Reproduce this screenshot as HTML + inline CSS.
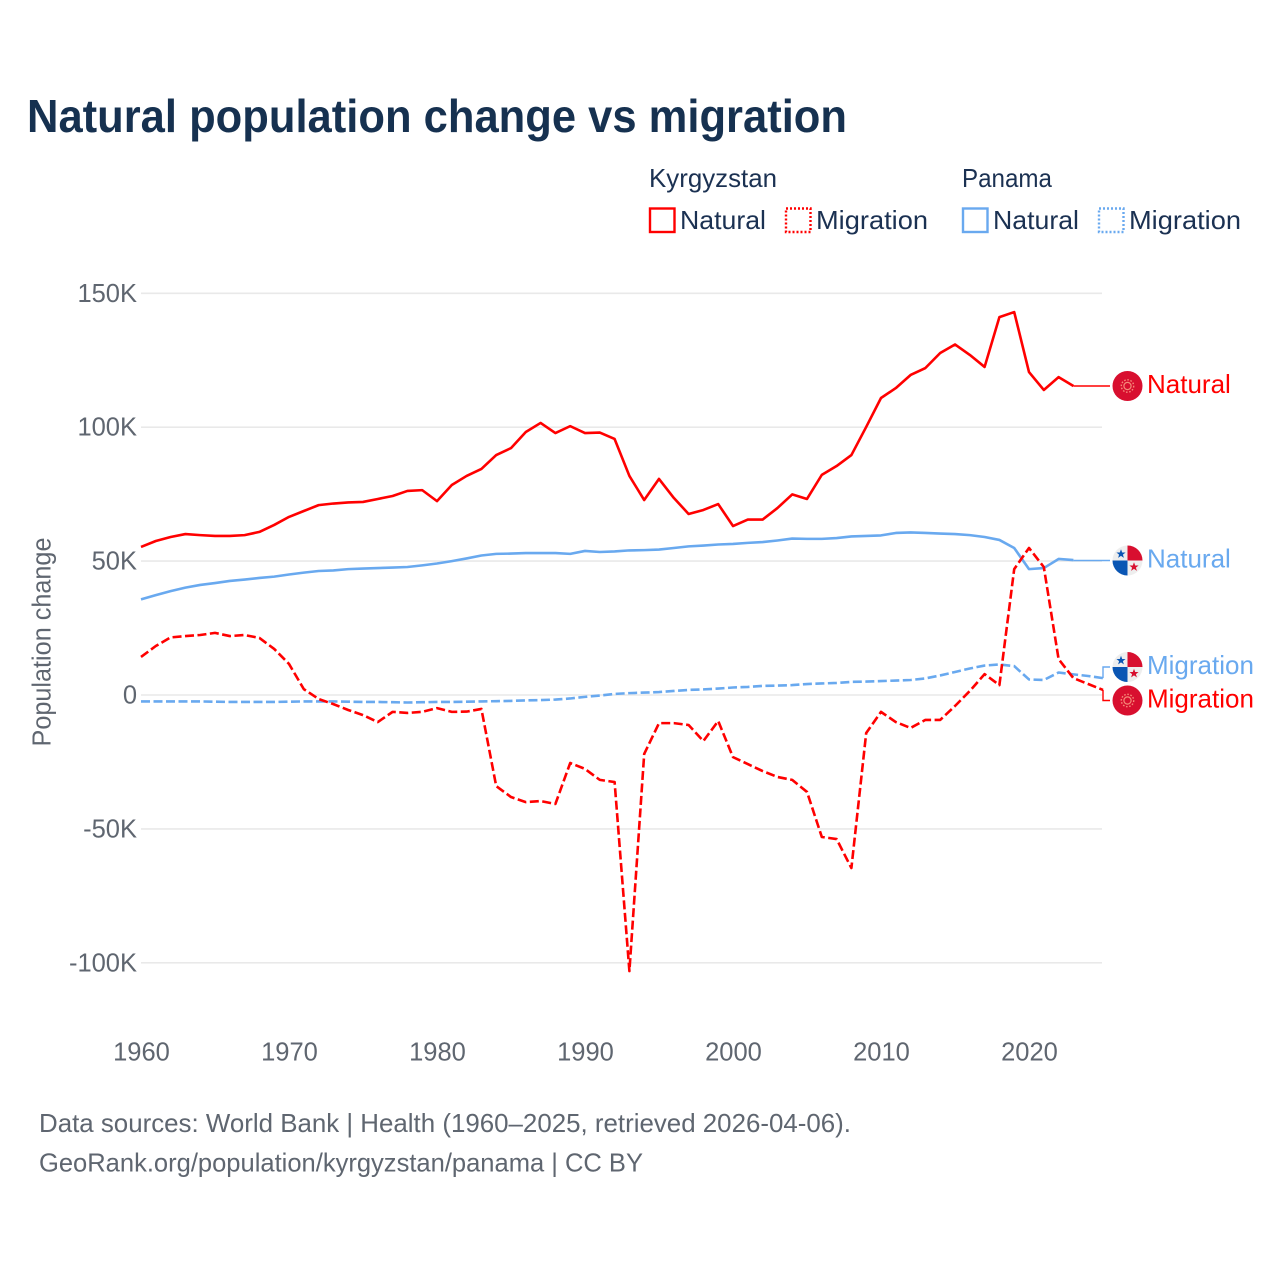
<!DOCTYPE html>
<html lang="en">
<head>
<meta charset="utf-8">
<title>Natural population change vs migration</title>
<style>
html,body{margin:0;padding:0;background:#fff}
svg{display:block}
text{font-family:"Liberation Sans",sans-serif}
.tick{font-size:25.5px;fill:#5f6670}
.legend{font-size:26px;fill:#1b3152}
.foot{font-size:26px;fill:#5f6670}
.end{font-size:26px}
</style>
</head>
<body>
<svg id="chart" xmlns="http://www.w3.org/2000/svg" width="1280" height="1280" viewBox="0 0 1280 1280">
<defs>
<g id="flag-kg">
<circle r="15" fill="#d80f2f"/>
<circle r="3.6" fill="none" stroke="#f58a78" stroke-width="1.2"/>
<circle r="6.2" fill="none" stroke="#f58a78" stroke-width="1.4" stroke-dasharray="1.6 1.6"/>
</g>
<g id="flag-pa">
<circle r="15" fill="#eeeeee"/>
<path d="M0 0V-15A15 15 0 0 1 15 0Z" fill="#d80f2f"/>
<path d="M0 0V15A15 15 0 0 1 -15 0Z" fill="#0a56b4"/>
<polygon transform="translate(-6.5 -6.5)" points="0,-4.8 1.2,-1.5 4.6,-1.5 1.9,0.6 2.9,3.9 0,1.9 -2.9,3.9 -1.9,0.6 -4.6,-1.5 -1.2,-1.5" fill="#0a56b4"/>
<polygon transform="translate(6.5 6.5)" points="0,-4.8 1.2,-1.5 4.6,-1.5 1.9,0.6 2.9,3.9 0,1.9 -2.9,3.9 -1.9,0.6 -4.6,-1.5 -1.2,-1.5" fill="#d80f2f"/>
</g>
</defs>

<text x="27" y="132" font-size="46.5" font-weight="700" fill="#163150" textLength="820" lengthAdjust="spacingAndGlyphs">Natural population change vs migration</text>

<g>
<text class="legend" x="649" y="187" textLength="128" lengthAdjust="spacingAndGlyphs">Kyrgyzstan</text>
<text class="legend" x="962" y="187" textLength="90" lengthAdjust="spacingAndGlyphs">Panama</text>
<rect x="650" y="208.5" width="24.5" height="23.5" fill="none" stroke="#ff0000" stroke-width="2.4"/>
<text class="legend" x="680" y="229" textLength="86" lengthAdjust="spacingAndGlyphs">Natural</text>
<rect x="786" y="208.5" width="24.5" height="23.5" fill="none" stroke="#ff0000" stroke-width="2.4" stroke-dasharray="2 2"/>
<text class="legend" x="816" y="229" textLength="112" lengthAdjust="spacingAndGlyphs">Migration</text>
<rect x="963" y="208.5" width="24.5" height="23.5" fill="none" stroke="#69a9ef" stroke-width="2.4"/>
<text class="legend" x="993" y="229" textLength="86" lengthAdjust="spacingAndGlyphs">Natural</text>
<rect x="1099" y="208.5" width="24.5" height="23.5" fill="none" stroke="#69a9ef" stroke-width="2.4" stroke-dasharray="2 2"/>
<text class="legend" x="1129" y="229" textLength="112" lengthAdjust="spacingAndGlyphs">Migration</text>
</g>

<text class="tick" transform="translate(50.5 642) rotate(-90)" text-anchor="middle" font-size="26" textLength="209" lengthAdjust="spacingAndGlyphs">Population change</text>

<g id="grid"></g>
<g id="yticks"></g>
<g id="xticks"></g>
<g id="series"></g>
<g id="ends"></g>

<text class="foot" x="39" y="1132" textLength="812" lengthAdjust="spacingAndGlyphs">Data sources: World Bank | Health (1960–2025, retrieved 2026-04-06).</text>
<text class="foot" x="39" y="1171.5" textLength="604" lengthAdjust="spacingAndGlyphs">GeoRank.org/population/kyrgyzstan/panama | CC BY</text>
</svg>

<script>
const startYear = 1960;
const xTickYears = [1960, 1970, 1980, 1990, 2000, 2010, 2020];
const yTickValues = [150, 100, 50, 0, -50, -100];
const yTickLabels = ['150K', '100K', '50K', '0', '-50K', '-100K'];

const kyrgyzstanNatural = [55.3,57.5,59.0,60.1,59.7,59.4,59.4,59.7,60.9,63.5,66.5,68.7,70.9,71.5,71.9,72.1,73.2,74.3,76.2,76.5,72.4,78.4,81.8,84.4,89.6,92.2,98.2,101.6,97.8,100.4,97.8,98.0,95.6,81.8,72.8,80.7,73.6,67.6,69.1,71.3,63.1,65.5,65.5,69.8,74.9,73.2,82.2,85.5,89.6,100.1,110.9,114.6,119.5,122.1,127.7,130.9,127.0,122.5,141.1,143.0,120.6,113.9,118.7,115.4];
const kyrgyzstanMigration = [14.2,18.3,21.5,22.0,22.4,23.2,22.0,22.4,21.3,17.2,11.6,2.2,-1.5,-3.4,-5.6,-7.5,-10.1,-6.3,-6.7,-6.3,-4.9,-6.3,-6.2,-5.2,-34.0,-38.1,-40.0,-39.6,-40.7,-25.4,-27.6,-31.7,-32.5,-103.1,-22.0,-10.5,-10.5,-11.2,-17.2,-9.7,-23.2,-25.8,-28.4,-30.6,-31.7,-36.2,-53.0,-53.8,-64.6,-14.2,-6.3,-10.1,-12.3,-9.3,-9.3,-4.1,1.5,7.8,3.7,47.0,54.9,47.8,13.4,6.3,4.1,1.9];
const panamaNatural = [35.7,37.3,38.8,40.1,41.1,41.8,42.6,43.1,43.7,44.2,45.0,45.7,46.3,46.5,47.0,47.2,47.4,47.6,47.8,48.4,49.1,50.0,51.0,52.1,52.7,52.8,53.0,53.0,53.0,52.7,53.8,53.4,53.6,54.0,54.1,54.3,54.9,55.5,55.8,56.2,56.4,56.8,57.1,57.7,58.4,58.3,58.3,58.6,59.2,59.4,59.6,60.5,60.7,60.5,60.3,60.1,59.7,59.0,57.9,54.9,47.0,47.4,50.8,50.4];
const panamaMigration = [-2.4,-2.4,-2.4,-2.4,-2.4,-2.5,-2.6,-2.6,-2.6,-2.6,-2.5,-2.4,-2.4,-2.4,-2.5,-2.6,-2.6,-2.7,-2.8,-2.7,-2.6,-2.6,-2.5,-2.4,-2.3,-2.2,-2.0,-1.9,-1.7,-1.3,-0.7,-0.2,0.4,0.7,0.9,1.1,1.5,1.9,2.1,2.4,2.8,3.0,3.4,3.5,3.7,4.1,4.3,4.5,4.9,5.0,5.2,5.4,5.6,6.2,7.3,8.6,9.9,11.0,11.4,10.8,5.8,5.6,8.4,7.7,7.1,6.3];

function xScale(year) { return 141 + (year - 1960) * 14.8; }
function yScale(k) { return 695 - k * 2.678; }

const NS = 'http://www.w3.org/2000/svg';
function make(tag, parentId, attrs) {
  const el = document.createElementNS(NS, tag);
  for (const k in attrs) el.setAttribute(k, attrs[k]);
  document.getElementById(parentId).appendChild(el);
  return el;
}

yTickValues.forEach(function (v, i) {
  const line = make('line', 'grid', {x1: 141, x2: 1102, y1: yScale(v), y2: yScale(v), stroke: '#e9e9e9', 'stroke-width': 1.6});
  
  
  const t = make('text', 'yticks', {x: 137, y: yScale(v) + 8.5, 'text-anchor': 'end', class: 'tick'});
  t.textContent = yTickLabels[i];
  
  
});

xTickYears.forEach(function (yr) {
  const t = make('text', 'xticks', {x: xScale(yr) + 0.5, y: 1060.5, 'text-anchor': 'middle', class: 'tick'});
  t.textContent = String(yr);
  
  
});

function pathFor(values) {
  return values.map(function (v, i) {
    return (i ? 'L' : 'M') + xScale(startYear + i).toFixed(2) + ' ' + yScale(v).toFixed(2);
  }).join('');
}

function drawSeries(values, color, dashed, name) {
  const p = make('path', 'series', {d: pathFor(values), fill: 'none', stroke: color, 'stroke-width': 2.6, 'stroke-linejoin': 'round'});
  if (dashed) p.setAttribute('stroke-dasharray', '9 3.5');
  
  
}

const RED = '#ff0000';
const BLUE = '#69a9ef';
drawSeries(kyrgyzstanNatural, RED, false, 'line-kyrgyzstan-natural');
drawSeries(panamaNatural, BLUE, false, 'line-panama-natural');
drawSeries(panamaMigration, BLUE, true, 'line-panama-migration');
drawSeries(kyrgyzstanMigration, RED, true, 'line-kyrgyzstan-migration');

function drawEnd(values, color, labelY, flag, text, name) {
  const lastYear = startYear + values.length - 1;
  const xe = xScale(lastYear);
  const ye = yScale(values[values.length - 1]);
  const stepped = Math.abs(ye - labelY) > 1;
  const d = stepped ? ('M' + xe + ' ' + ye + 'V' + labelY + 'H1110') : ('M' + xe + ' ' + labelY + 'H1110');
  const c = make('path', 'ends', {d: d, fill: 'none', stroke: color, 'stroke-width': 1.4});
  
  
  const u = make('use', 'ends', {href: '#' + flag, x: 1127.5, y: labelY});
  
  
  const t = make('text', 'ends', {x: 1147, y: labelY + 7, fill: color, class: 'end'});
  t.textContent = text;
  
  
}

drawEnd(kyrgyzstanNatural, RED, 386, 'flag-kg', 'Natural', 'end-kyrgyzstan-natural');
drawEnd(panamaNatural, BLUE, 560.5, 'flag-pa', 'Natural', 'end-panama-natural');
drawEnd(panamaMigration, BLUE, 667, 'flag-pa', 'Migration', 'end-panama-migration');
drawEnd(kyrgyzstanMigration, RED, 700.5, 'flag-kg', 'Migration', 'end-kyrgyzstan-migration');
</script>
</body>
</html>
